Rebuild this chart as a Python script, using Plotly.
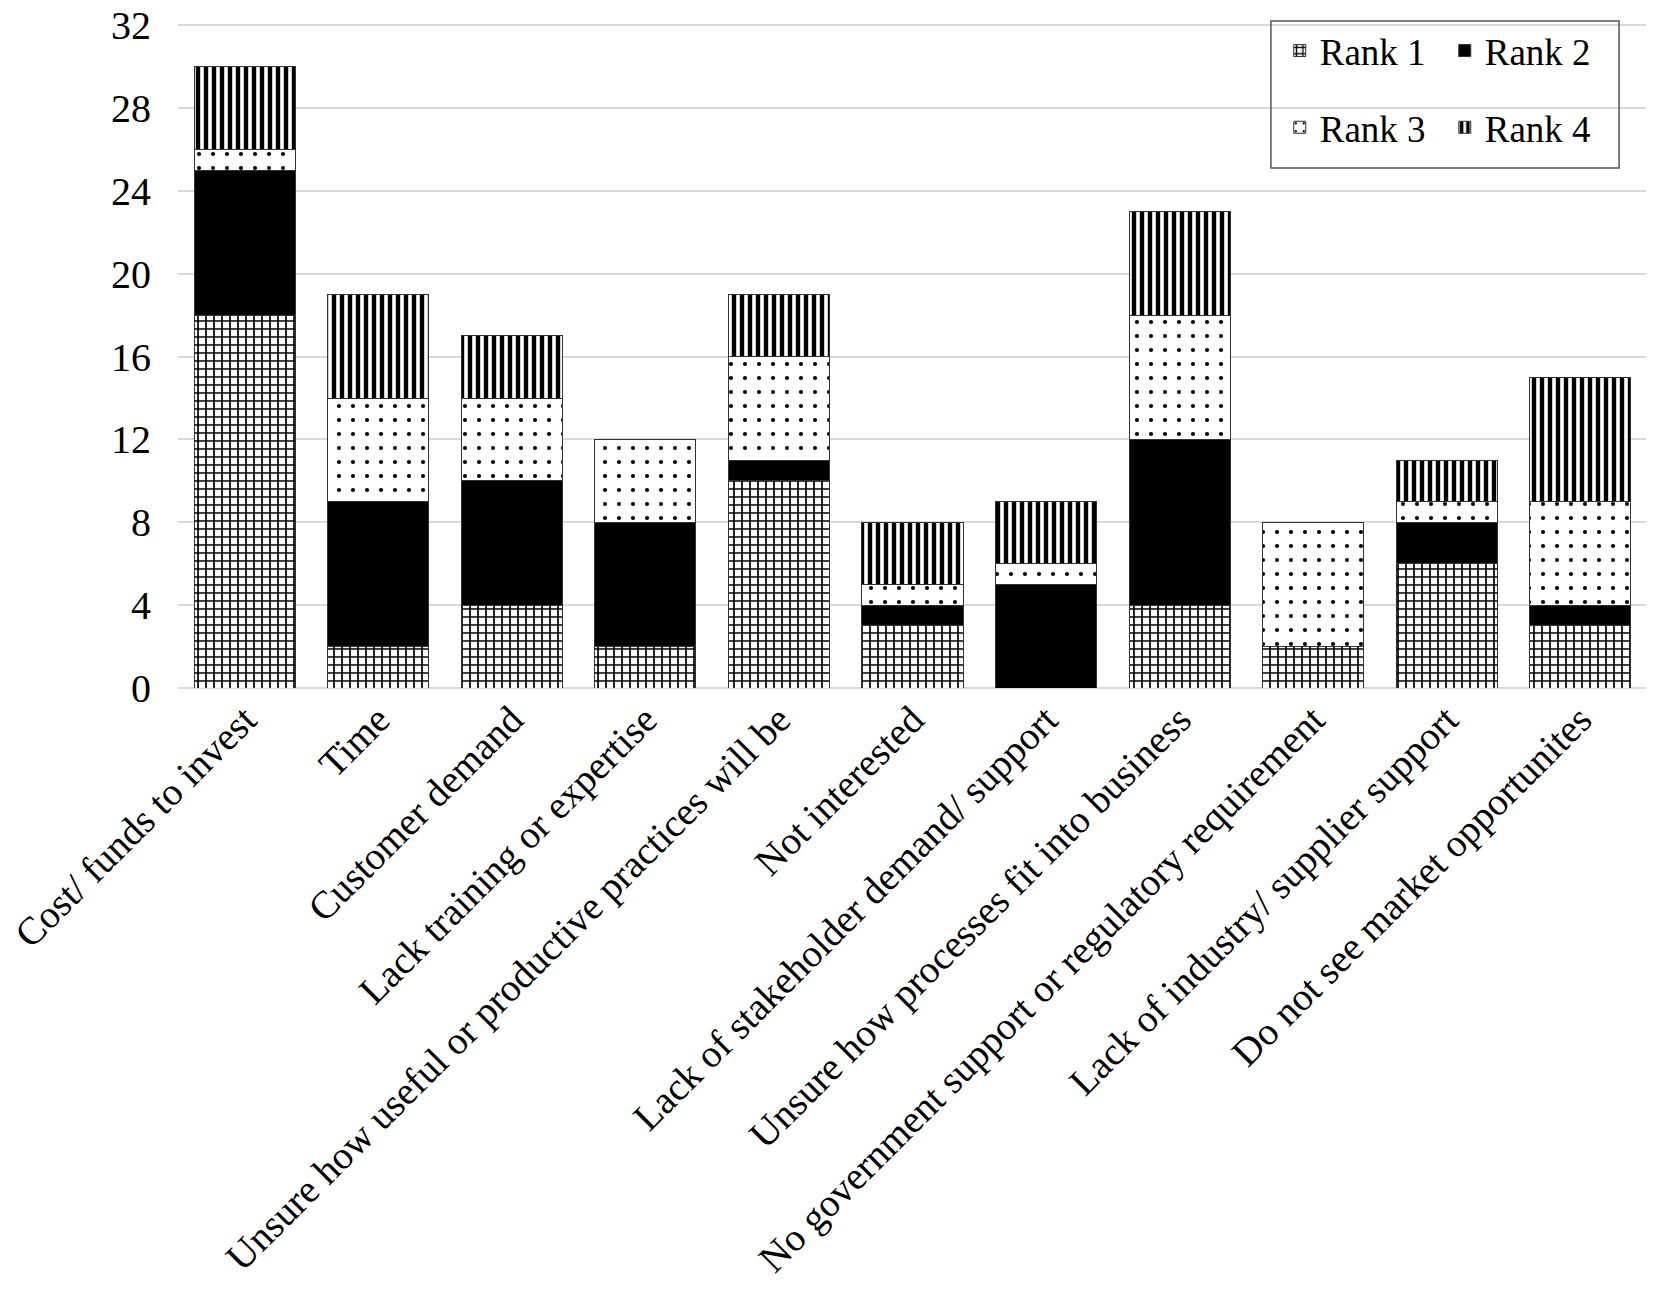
import plotly.graph_objects as go

categories = [
    "Cost/ funds to invest",
    "Time",
    "Customer demand",
    "Lack training or expertise",
    "Unsure how useful or productive practices will be",
    "Not interested",
    "Lack of stakeholder demand/ support",
    "Unsure how processes fit into business",
    "No government support or regulatory requirement",
    "Lack of industry/ supplier support",
    "Do not see market opportunites",
]
rank1 = [18, 2, 4, 2, 10, 3, 0, 4, 2, 6, 3]
rank2 = [7, 7, 6, 6, 1, 1, 5, 8, 0, 2, 1]
rank3 = [1, 5, 4, 4, 5, 1, 1, 6, 6, 1, 5]
rank4 = [4, 5, 3, 0, 3, 3, 3, 5, 0, 2, 6]
y_ticks = [0, 4, 8, 12, 16, 20, 24, 28, 32]

FONT = "Liberation Serif, Times New Roman, serif"

series = [
    ("Rank 1", rank1, dict(shape="+", size=8, solidity=0.38), "legend"),
    ("Rank 2", rank2, None, "legend"),
    ("Rank 3", rank3, dict(shape=".", size=14, solidity=0.07), "legend2"),
    ("Rank 4", rank4, dict(shape="|", size=8, solidity=0.55), "legend2"),
]

fig = go.Figure()
for name, vals, pat, leg in series:
    if pat is None:
        marker = dict(color="black", line=dict(color="#333", width=1))
    else:
        marker = dict(color="white", line=dict(color="#333", width=1),
                      pattern=dict(fgcolor="black", bgcolor="white",
                                   fgopacity=1, fillmode="overlay", **pat))
    fig.add_trace(go.Bar(x=categories, y=vals, name=name, marker=marker,
                         legend=leg))

legend_common = dict(orientation="h", xanchor="left", yanchor="middle",
                     traceorder="normal",
                     font=dict(family=FONT, size=37, color="black"),
                     bgcolor="rgba(0,0,0,0)", entrywidth=120,
                     itemclick=False)

# page body has an 8px margin, so the figure is a bit smaller than the window;
# the y range goes a little past 32 so the top grid line is not clipped
fig.update_layout(
    width=1640, height=1300,
    barmode="stack", bargap=0.243,
    paper_bgcolor="white", plot_bgcolor="white",
    margin=dict(l=170, r=1, t=13, b=620),
    font=dict(family=FONT, size=39, color="black"),
    legend=dict(x=0.75, y=0.955, **legend_common),
    legend2=dict(x=0.75, y=0.84, **legend_common),
    xaxis=dict(tickangle=-45, tickfont=dict(size=39), showline=False,
               showgrid=False, automargin=False),
    yaxis=dict(range=[0, 32.2], tickvals=y_ticks, showgrid=True,
               gridcolor="#d9d9d9", gridwidth=2, zeroline=True,
               zerolinecolor="#d9d9d9", zerolinewidth=2,
               automargin=False, ticklabeloverflow="allow",
               tickfont=dict(size=40), ticklabelstandoff=26),
    shapes=[dict(type="rect", xref="paper", yref="paper",
                 x0=0.744, x1=0.981, y0=0.7795, y1=1.0,
                 line=dict(color="#555", width=1.5))],
)

fig.write_html("out.html")
